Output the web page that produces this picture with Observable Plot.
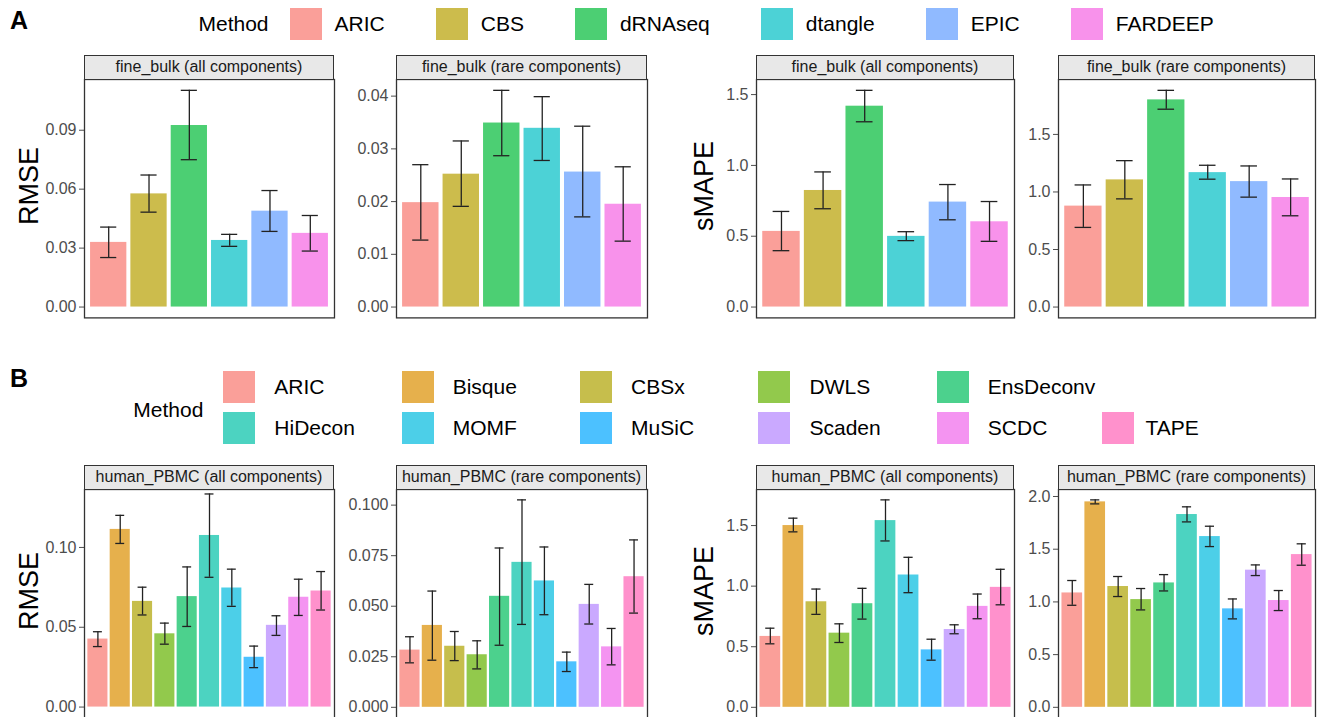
<!DOCTYPE html>
<html><head><meta charset="utf-8">
<script src="https://cdn.jsdelivr.net/npm/d3@7"></script>
<script src="https://cdn.jsdelivr.net/npm/@observablehq/plot@0.6"></script>
<style>
body{margin:0;background:#fff;font-family:"Liberation Sans",Arial,Helvetica,sans-serif;}
#root{position:relative;width:1319px;height:717px;overflow:hidden;background:#fff;}
.strip{position:absolute;box-sizing:border-box;border:1.3px solid #333;background:#E8E8E8;color:#1A1A1A;font-size:16px;display:flex;align-items:center;justify-content:center;white-space:nowrap;}
.ytitle{position:absolute;font-size:27px;color:#000;transform:translate(-50%,-50%) rotate(-90deg);white-space:nowrap;line-height:1;}
.tag{position:absolute;font-size:25px;font-weight:bold;color:#000;line-height:1;}
.plotbox{position:absolute;}
.legA{position:absolute;left:198.5px;top:8px;height:32px;display:flex;align-items:center;font-size:21px;color:#000;}
.legA .item{display:flex;align-items:center;margin-left:51px;}
.legA .item.first{margin-left:21px;}
.sw{width:32px;height:32px;flex:none;}
.legA .sw{margin-right:13px;}
.legBlabel{position:absolute;left:133.3px;top:397px;font-size:21px;line-height:26px;color:#000;}
.legB{position:absolute;left:223.3px;top:371px;display:grid;grid-template-columns:178.4px 178.4px 178.4px 178.4px 165.6px auto;grid-template-rows:32px 32px;row-gap:9px;font-size:21px;color:#000;}
.legB .item{display:flex;align-items:center;}
.legB .sw{margin-right:19px;}
</style>
</head><body>
<div id="root"></div>
<script>
// ---------- data ----------
const methodsA = ["ARIC","CBS","dRNAseq","dtangle","EPIC","FARDEEP"];
const methodsB = ["ARIC","Bisque","CBSx","DWLS","EnsDeconv","HiDecon","MOMF","MuSiC","Scaden","SCDC","TAPE"];

// fine_bulk, RMSE, all components
const fbRmseAllMean = [0.0329,0.0576,0.0924,0.0339,0.0488,0.0375];
const fbRmseAllLo   = [0.0252,0.0483,0.0750,0.0309,0.0385,0.0285];
const fbRmseAllHi   = [0.0407,0.0672,0.1103,0.0370,0.0593,0.0466];
// fine_bulk, RMSE, rare components
const fbRmseRareMean = [0.0198,0.0252,0.0349,0.0339,0.0256,0.0195];
const fbRmseRareLo   = [0.0127,0.0191,0.0287,0.0278,0.0171,0.0125];
const fbRmseRareHi   = [0.0270,0.0315,0.0411,0.0399,0.0343,0.0266];
// fine_bulk, sMAPE, all components
const fbSmapeAllMean = [0.534,0.823,1.418,0.499,0.741,0.602];
const fbSmapeAllLo   = [0.398,0.694,1.308,0.469,0.616,0.464];
const fbSmapeAllHi   = [0.675,0.954,1.530,0.532,0.865,0.745];
// fine_bulk, sMAPE, rare components
const fbSmapeRareMean = [0.877,1.105,1.800,1.168,1.090,0.952];
const fbSmapeRareLo   = [0.692,0.940,1.719,1.111,0.955,0.793];
const fbSmapeRareHi   = [1.061,1.272,1.883,1.232,1.226,1.113];

// human_PBMC, RMSE, all components
const pbRmseAllMean = [0.0426,0.1113,0.0662,0.0459,0.0692,0.1075,0.0746,0.0312,0.0512,0.0688,0.0727];
const pbRmseAllLo   = [0.0379,0.1025,0.0577,0.0394,0.0505,0.0813,0.0631,0.0247,0.0449,0.0574,0.0608];
const pbRmseAllHi   = [0.0472,0.1201,0.0751,0.0526,0.0878,0.1335,0.0864,0.0382,0.0572,0.0801,0.0849];
// human_PBMC, RMSE, rare components
const pbRmseRareMean = [0.0283,0.0405,0.0302,0.0260,0.0549,0.0717,0.0625,0.0225,0.0509,0.0299,0.0646];
const pbRmseRareLo   = [0.0220,0.0233,0.0231,0.0190,0.0307,0.0410,0.0458,0.0177,0.0412,0.0210,0.0466];
const pbRmseRareHi   = [0.0349,0.0575,0.0375,0.0329,0.0788,0.1026,0.0793,0.0273,0.0608,0.0390,0.0828];
// human_PBMC, sMAPE, all components
const pbSmapeAllMean = [0.585,1.500,0.871,0.612,0.855,1.541,1.092,0.474,0.642,0.833,0.990];
const pbSmapeAllLo   = [0.524,1.448,0.767,0.535,0.728,1.373,0.946,0.389,0.607,0.731,0.846];
const pbSmapeAllHi   = [0.653,1.561,0.976,0.689,0.982,1.712,1.238,0.562,0.681,0.935,1.139];
// human_PBMC, sMAPE, rare components
const pbSmapeRareMean = [1.085,1.949,1.146,1.022,1.180,1.829,1.620,0.934,1.301,1.013,1.449];
const pbSmapeRareLo   = [0.968,1.930,1.051,0.924,1.104,1.759,1.525,0.839,1.250,0.918,1.348];
const pbSmapeRareHi   = [1.203,1.968,1.241,1.127,1.259,1.902,1.718,1.028,1.351,1.108,1.551];

// tick labels
const ticksRmseA = [0, 0.03, 0.06, 0.09];
const ticksRmseRareA = [0, 0.01, 0.02, 0.03, 0.04];
const ticksSmapeA = [0, 0.5, 1.0, 1.5];
const ticksRmseB = [0, 0.05, 0.10];
const ticksRmseRareB = [0, 0.025, 0.05, 0.075, 0.1];
const ticksSmapeB = [0, 0.5, 1.0, 1.5];
const ticksSmapeRareB = [0, 0.5, 1.0, 1.5, 2.0];

// ---------- styles ----------
const colorsA = ["#F8766D","#B79F00","#00BA38","#00BFC4","#619CFF","#F564E3"];
const colorsB = ["#F8766D","#DB8E00","#AEA200","#64B200","#00BD5C","#00C1A7","#00BADE","#00A6FF","#B385FF","#EF67EB","#FF63B6"];
const ALPHA = 0.7;
const FONT = '"Liberation Sans", Arial, Helvetica, sans-serif';

const rows = {
  A: {stripTop: 54.7, plotTop: 79.3, plotBottom: 317.7},
  B: {stripTop: 464.7, plotTop: 489.3, plotBottom: 717.5}
};
const cols = [[84, 334], [396, 647], [756, 1014], [1058, 1315]];

const panels = [
  {row:"A", col:0, methods:methodsA, colors:colorsA, mean:fbRmseAllMean, lo:fbRmseAllLo, hi:fbRmseAllHi, title:"fine_bulk (all components)", ytitle:"RMSE", ticks:ticksRmseA, fmt:".2f"},
  {row:"A", col:1, methods:methodsA, colors:colorsA, mean:fbRmseRareMean, lo:fbRmseRareLo, hi:fbRmseRareHi, title:"fine_bulk (rare components)", ticks:ticksRmseRareA, fmt:".2f"},
  {row:"A", col:2, methods:methodsA, colors:colorsA, mean:fbSmapeAllMean, lo:fbSmapeAllLo, hi:fbSmapeAllHi, title:"fine_bulk (all components)", ytitle:"sMAPE", ticks:ticksSmapeA, fmt:".1f"},
  {row:"A", col:3, methods:methodsA, colors:colorsA, mean:fbSmapeRareMean, lo:fbSmapeRareLo, hi:fbSmapeRareHi, title:"fine_bulk (rare components)", ticks:ticksSmapeA, fmt:".1f"},
  {row:"B", col:0, methods:methodsB, colors:colorsB, mean:pbRmseAllMean, lo:pbRmseAllLo, hi:pbRmseAllHi, title:"human_PBMC (all components)", ytitle:"RMSE", ticks:ticksRmseB, fmt:".2f", top:0.1363},
  {row:"B", col:1, methods:methodsB, colors:colorsB, mean:pbRmseRareMean, lo:pbRmseRareLo, hi:pbRmseRareHi, title:"human_PBMC (rare components)", ticks:ticksRmseRareB, fmt:".3f"},
  {row:"B", col:2, methods:methodsB, colors:colorsB, mean:pbSmapeAllMean, lo:pbSmapeAllLo, hi:pbSmapeAllHi, title:"human_PBMC (all components)", ytitle:"sMAPE", ticks:ticksSmapeB, fmt:".1f"},
  {row:"B", col:3, methods:methodsB, colors:colorsB, mean:pbSmapeRareMean, lo:pbSmapeRareLo, hi:pbSmapeRareHi, title:"human_PBMC (rare components)", ticks:ticksSmapeRareB, fmt:".1f"}
];

const root = document.getElementById("root");
const ML = 60, MR = 2, MT = 1, MB = 1;

function el(cls, html, css) {
  const d = document.createElement("div");
  if (cls) d.className = cls;
  if (html != null) d.innerHTML = html;
  Object.assign(d.style, css || {});
  root.appendChild(d);
  return d;
}

for (const p of panels) {
  const r = rows[p.row];
  const [x0, x1] = cols[p.col];
  const W = x1 - x0, H = r.plotBottom - r.plotTop;
  const n = p.methods.length;
  const tbl = p.methods.map((m, i) => ({method: m, idx: i + 1, mean: p.mean[i], lo: p.lo[i], hi: p.hi[i]}));
  const M = d3.max(p.hi);
  const top = p.top ?? M * 1.05;
  const bottom = -0.05 * (p.top ? p.top / 1.025 : M);

  const chart = Plot.plot({
    width: W + ML + MR,
    height: H + MT + MB,
    marginLeft: ML, marginRight: MR, marginTop: MT, marginBottom: MB,
    x: {domain: [0.4, n + 0.6], axis: null},
    y: {domain: [bottom, top], ticks: p.ticks, tickFormat: d3.format(p.fmt), tickSize: 5, tickPadding: 3, label: null},
    color: {domain: p.methods, range: p.colors},
    style: {fontSize: "16px", fontFamily: FONT, color: "#4D4D4D", background: "transparent", overflow: "visible"},
    marks: [
      Plot.rectY(tbl, {x1: d => d.idx - 0.45, x2: d => d.idx + 0.45, y1: 0, y2: "mean", fill: "method", fillOpacity: ALPHA}),
      Plot.ruleX(tbl, {x: "idx", y1: "lo", y2: "hi", stroke: "#222", strokeWidth: 1.3}),
      Plot.ruleY(tbl, {y: "hi", x1: d => d.idx - 0.2, x2: d => d.idx + 0.2, stroke: "#222", strokeWidth: 1.3}),
      Plot.ruleY(tbl, {y: "lo", x1: d => d.idx - 0.2, x2: d => d.idx + 0.2, stroke: "#222", strokeWidth: 1.3}),
      Plot.frame({stroke: "#333", strokeWidth: 1.3})
    ]
  });
  const box = el("plotbox", null, {left: (x0 - ML) + "px", top: (r.plotTop - MT) + "px"});
  box.appendChild(chart);

  el("strip", p.title, {left: x0 + "px", top: r.stripTop + "px", width: W + "px", height: (r.plotTop - r.stripTop + 0.6) + "px"});

  if (p.ytitle) {
    const cx = p.col === 0 ? 29 : 703.5;
    el("ytitle", p.ytitle, {left: cx + "px", top: ((r.stripTop + r.plotBottom) / 2) + "px"});
  }
}

// panel tags
el("tag", "A", {left: "10px", top: "8px"});
el("tag", "B", {left: "10px", top: "366px"});

// legend A
const legA = el("legA", null, {});
const mA = document.createElement("div");
mA.textContent = "Method";
legA.appendChild(mA);
methodsA.forEach((m, i) => {
  const it = document.createElement("div");
  it.className = i === 0 ? "item first" : "item";
  const sw = document.createElement("div");
  sw.className = "sw";
  sw.style.background = colorsA[i];
  sw.style.opacity = ALPHA;
  const t = document.createElement("span");
  t.textContent = m;
  it.appendChild(sw); it.appendChild(t);
  legA.appendChild(it);
});

// legend B
el("legBlabel", "Method", {});
const legB = el("legB", null, {});
methodsB.forEach((m, i) => {
  const it = document.createElement("div");
  it.className = "item";
  it.style.gridRow = i < 5 ? "1" : "2";
  it.style.gridColumn = String(i < 5 ? i + 1 : i - 4);
  const sw = document.createElement("div");
  sw.className = "sw";
  sw.style.background = colorsB[i];
  sw.style.opacity = ALPHA;
  if (m === "TAPE") sw.style.marginRight = "11px";
  const t = document.createElement("span");
  t.textContent = m;
  it.appendChild(sw); it.appendChild(t);
  legB.appendChild(it);
});
</script>
</body></html>
